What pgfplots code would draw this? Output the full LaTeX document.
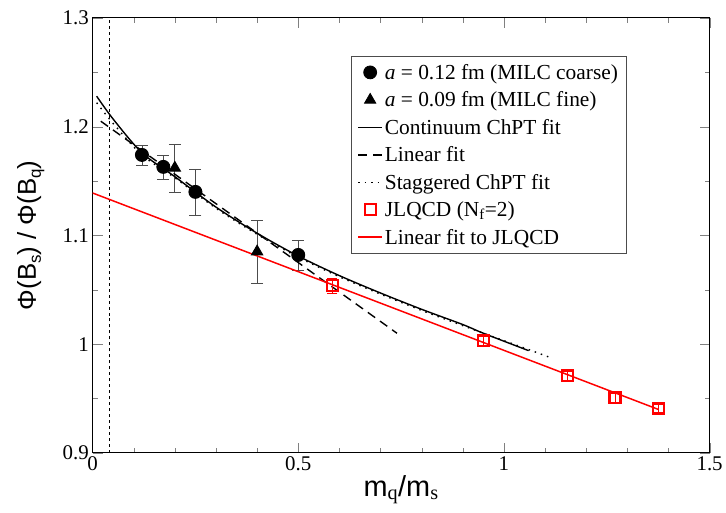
\documentclass[border=0pt]{standalone}
\usepackage{pgfplots}
\pgfplotsset{compat=1.18}
\usepackage{fontspec}
\setmainfont{Liberation Serif}
\newfontfamily\lsans{Liberation Sans}
\pgfplotsset{markleg/.style={legend image code/.code={\draw[mark repeat=2,mark phase=2,##1] plot coordinates {(0pt,0pt) (12pt,0pt) (24pt,0pt)};}}}
\begin{document}
\begin{tikzpicture}
\begin{axis}[
  name=ax,
  scale only axis, width=620pt, height=437pt,
  xmin=0, xmax=1.5, ymin=0.9, ymax=1.3,
  xtick={0,0.5,1,1.5}, ytick={0.9,1.0,1.1,1.2,1.3},
  xticklabels={0,0.5,1,1.5}, yticklabels={0.9,1,1.1,1.2,1.3},
  minor x tick num=4, minor y tick num=1,
  tick align=inside, major tick length=10pt, minor tick length=5pt,
  xtick pos=both, ytick pos=both,
  line width=1pt,
  tick label style={font=\fontsize{21}{21}\selectfont},
  xlabel={\lsans\fontsize{29}{29}\selectfont m$_{\mathrm{q}}$/m$_{\mathrm{s}}$},
  ylabel={\lsans\fontsize{26}{26}\selectfont Φ(B\raisebox{-5pt}{\fontsize{17}{17}\selectfont s}) / Φ(B\raisebox{-5pt}{\fontsize{17}{17}\selectfont q})},
  xlabel style={at={(axis description cs:0.5,-0.085)}, anchor=center},
  ylabel style={at={(axis description cs:-0.1,0.5)}, anchor=center},
  legend style={at={(0.419,0.913)}, anchor=north west, draw=black!70, line width=0.8pt,
    font=\fontsize{21.5}{24}\selectfont, row sep=7pt, inner sep=6pt},
  legend image code/.code={\draw[#1] (0pt,0pt) -- (12pt,0pt) -- (24pt,0pt);},
  legend cell align=left,
]
\addplot[black, dashed, line width=0.6pt, forget plot] coordinates {(0.041,0.9) (0.041,1.3)};
\addplot[black, only marks, mark=*, mark size=6.5pt, markleg, error bars/.cd, y dir=both, y explicit,
  error bar style={black!70, line width=0.8pt}, error mark options={black!70, rotate=90, mark size=6pt}]
  coordinates {(0.12,1.174) +- (0,0.009) (0.172,1.163) +- (0,0.011) (0.25,1.140) +- (0,0.021) (0.5,1.082) +- (0,0.014)};
\addlegendentry{\textit{a} = 0.12 fm (MILC coarse)}
\addplot[black, only marks, mark=triangle*, mark size=6.5pt, markleg, error bars/.cd, y dir=both, y explicit,
  error bar style={black!70, line width=0.8pt}, error mark options={black!70, rotate=90, mark size=6pt}]
  coordinates {(0.2,1.162) +- (0,0.022) (0.4,1.085) +- (0,0.029)};
\addlegendentry{\textit{a} = 0.09 fm (MILC fine)}
\addplot[black, line width=1.4pt, smooth] coordinates {(0.01,1.228) (0.05,1.207) (0.12,1.176) (0.2,1.154) (0.3,1.126) (0.4,1.102) (0.5,1.081) (0.6,1.063) (0.7,1.047) (0.8,1.032) (0.9,1.018) (0.95,1.010) (1.06,0.994)};
\addlegendentry{Continuum ChPT fit}
\addplot[black, line width=1.4pt, dash pattern=on 9pt off 6pt] coordinates {(0.02,1.205) (0.74,1.010)};
\addlegendentry{Linear fit}
\addplot[black, line width=1.4pt, dash pattern=on 1.5pt off 5pt, smooth] coordinates {(0.01,1.222) (0.05,1.203) (0.12,1.174) (0.2,1.153) (0.3,1.125) (0.4,1.101) (0.5,1.080) (0.6,1.062) (0.7,1.046) (0.8,1.031) (0.9,1.017) (0.95,1.010) (1.06,0.995) (1.11,0.988)};
\addlegendentry{Staggered ChPT fit}
\addplot[red, only marks, mark=square, mark size=5.5pt, mark options={line width=2.2pt}, markleg, error bars/.cd, y dir=both, y explicit,
  error bar style={red, line width=0.8pt}, error mark options={red, rotate=90, mark size=5pt}]
  coordinates {(0.583,1.054) +- (0,0.007) (0.95,1.003) +- (0,0.004) (1.155,0.971) +- (0,0.004) (1.27,0.951) +- (0,0.004) (1.375,0.941) +- (0,0.004)};
\addlegendentry{JLQCD (N$_{\mathrm{f}}$=2)}
\addplot[red, line width=1.5pt] coordinates {(0,1.139) (1.375,0.940)};
\addlegendentry{Linear fit to JLQCD}
\end{axis}
\path[use as bounding box] ([shift={(-93pt,-60pt)}]ax.south west) rectangle ([shift={(13pt,18pt)}]ax.north east);
\end{tikzpicture}
\end{document}
